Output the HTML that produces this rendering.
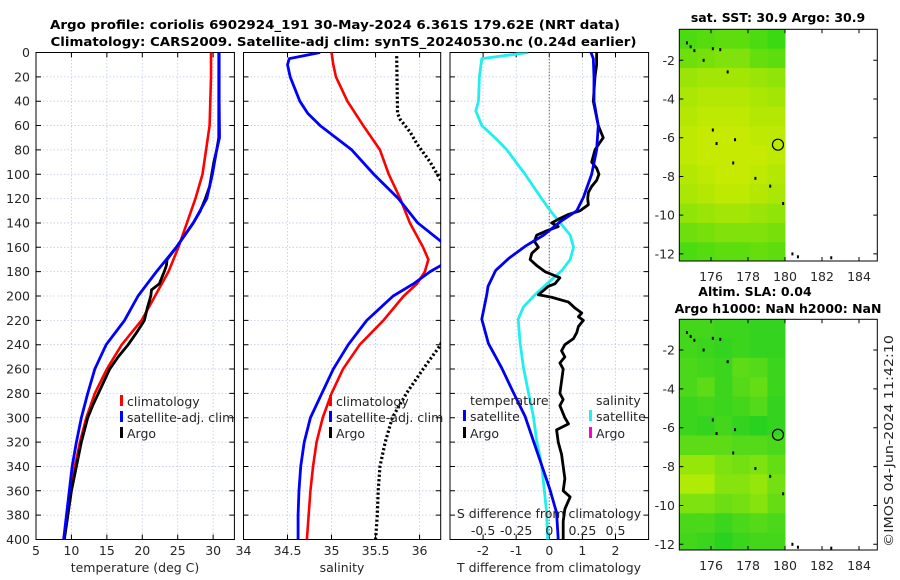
<!DOCTYPE html>
<html><head><meta charset="utf-8"><style>
html,body{margin:0;padding:0;background:#fff;}
svg{display:block;font-family:"DejaVu Sans","Liberation Sans",sans-serif;}
</style></head><body>
<svg id="chart" width="900" height="580" viewBox="0 0 900 580" xmlns="http://www.w3.org/2000/svg">
<defs>
<clipPath id="c1"><rect x="36" y="52.5" width="198.4" height="487"/></clipPath>
<clipPath id="c2"><rect x="243.5" y="52.5" width="197.2" height="487"/></clipPath>
<clipPath id="c3"><rect x="450" y="52.5" width="198.6" height="487"/></clipPath>
</defs>
</svg>
<script>
// ---------- data ----------
const depthTicks=[0,20,40,60,80,100,120,140,160,180,200,220,240,260,280,300,320,340,360,380,400];
const tempTicks=[5,10,15,20,25,30];
const salTicks=[34,34.5,35,35.5,36];
const salTickLabels=["34","34.5","35","35.5","36"];
const tdTicks=[-2,-1,0,1,2];
const sdTicks=[-0.5,-0.25,0,0.25,0.5];
const sdTickLabels=["-0.5","-0.25","0","0.25","0.5"];

const tempClimD=[0,20,40,60,80,100,120,140,160,180,200,220,240,260,280,300,320,340,360,380,400];
const tempClim=[29.7,29.7,29.6,29.5,29.0,28.5,27.5,26.3,25.1,23.7,21.8,19.9,17.1,15.0,13.3,12.1,11.2,10.5,9.9,9.4,8.9];
const tempSatD=[0,40,70,80,100,120,140,160,180,200,220,240,260,280,300,320,340,360,380,400];
const tempSat=[30.85,30.85,30.9,30.5,29.9,29.1,27.2,24.8,22.0,19.4,17.5,14.9,13.3,12.3,11.4,10.7,10.1,9.7,9.3,8.9];
const tempArgoD=[0,20,40,60,70,80,90,100,110,120,130,140,150,160,170,175,180,190,195,200,210,220,230,240,250,260,270,280,290,300,320,340,360,380,400];
const tempArgo=[30.8,30.8,30.8,30.8,30.8,30.5,30.1,29.8,29.5,28.9,28.2,27.2,26.0,24.8,23.5,23.4,23.1,22.4,21.3,21.2,20.7,20.3,19.2,18.0,16.6,15.4,14.6,13.8,13.0,12.3,11.4,10.7,10.0,9.5,9.0];

const salClimD=[0,10,20,40,60,80,100,120,140,160,170,180,190,200,220,240,260,280,300,320,340,360,380,400];
const salClim=[35.0,35.02,35.05,35.18,35.36,35.55,35.65,35.78,35.89,36.04,36.10,36.06,35.97,35.82,35.59,35.32,35.13,35.0,34.9,34.83,34.79,34.76,34.74,34.72];
const salSatD=[0,5,10,20,40,50,60,80,100,120,140,155,165,175,180,190,200,220,240,260,280,300,320,340,360,380,400];
const salSat=[34.87,34.52,34.5,34.53,34.64,34.73,34.87,35.23,35.48,35.76,35.98,36.24,36.4,36.24,36.12,35.93,35.70,35.40,35.19,35.02,34.89,34.76,34.69,34.65,34.63,34.62,34.62];
const salArgoD=[3,50,55,65,75,90,105,120,200,240,260,280,300,320,340,360,380,400];
const salArgo=[35.74,35.75,35.78,35.89,35.97,36.12,36.24,36.4,36.4,36.24,36.04,35.85,35.69,35.61,35.55,35.53,35.52,35.5];

const tdSatD=[0,5,20,40,60,80,100,119,130,139,150,159,169,179,192,199,219,239,259,279,299,319,339,359,378,400];
const tdSat=[1.26,1.33,1.35,1.35,1.48,1.43,1.28,1.03,0.83,0.33,-0.17,-0.72,-1.22,-1.62,-1.85,-1.89,-2.04,-1.84,-1.44,-1.09,-0.73,-0.48,-0.23,0.02,0.22,0.27];
const sdSatD=[0,5,20,40,48,60,70,80,100,120,130,140,150,160,170,179,187,192,199,209,219,239,259,279,299,319,339,359,378,400];
const sdSat=[-0.158,-0.51,-0.528,-0.535,-0.555,-0.51,-0.41,-0.32,-0.183,-0.058,0.008,0.083,0.158,0.183,0.158,0.095,0.013,-0.038,-0.108,-0.195,-0.235,-0.22,-0.195,-0.158,-0.12,-0.095,-0.058,-0.038,-0.02,-0.013];
const tdArgoD=[0,10,20,40,60,70,75,80,90,95,100,105,110,115,120,125,130,133,137,140,143,147,150,155,160,165,170,175,180,185,190,192,199,201,205,210,214,217,220,225,230,235,240,245,250,255,260,270,280,285,290,300,305,310,320,330,340,350,360,365,375,385,400];
const tdArgo=[1.43,1.43,1.38,1.33,1.48,1.63,1.50,1.38,1.28,1.43,1.50,1.43,1.28,1.18,1.16,1.18,0.93,0.58,0.27,0.07,0.27,-0.13,-0.38,-0.45,-0.33,-0.53,-0.58,-0.38,-0.13,0.32,0.17,-0.03,-0.33,0.07,0.58,0.78,0.98,0.88,1.03,0.88,0.83,0.73,0.47,0.37,0.47,0.32,0.42,0.37,0.32,0.42,0.32,0.47,0.58,0.22,0.27,0.37,0.42,0.47,0.42,0.63,0.47,0.42,0.42];

// maps
const lonTicks=[176,178,180,182,184];
const latTicks=[-2,-4,-6,-8,-10,-12];
const cellLon=[174.3,175.25,176.2,177.15,178.1,179.05];
const cellLat=[-0.4,-1.4,-2.4,-3.4,-4.4,-5.4,-6.4,-7.4,-8.4,-9.4,-10.4,-11.4];
const sstGrid=[
[0.2,0.25,0.3,0.3,0.2,0.1],[0.4,0.45,0.5,0.5,0.35,0.3],[0.65,0.7,0.7,0.7,0.65,0.6],[0.75,0.8,0.8,0.8,0.75,0.7],
[0.8,0.85,0.85,0.85,0.8,0.8],[0.85,0.9,0.9,0.9,0.85,0.85],[0.85,0.9,0.9,0.9,0.9,0.85],[0.8,0.85,0.9,0.9,0.85,0.8],
[0.75,0.8,0.85,0.85,0.8,0.75],[0.6,0.65,0.7,0.7,0.65,0.6],[0.4,0.45,0.5,0.5,0.5,0.45],[0.2,0.25,0.3,0.3,0.35,0.3]];
const slaGrid=[
[0.2,0.2,0.15,0.15,0.1,0.1],[0.2,0.15,0.1,0.15,0.1,0.1],[0.25,0.2,0.15,0.35,0.3,0.15],[0.25,0.35,0.15,0.3,0.4,0.15],
[0.15,0.2,0.15,0.2,0.3,0.1],[0.15,0.1,0.2,0.1,0.05,0.1],[0.35,0.35,0.35,0.3,0.3,0.25],[0.7,0.7,0.55,0.5,0.55,0.4],
[0.85,0.85,0.6,0.6,0.7,0.5],[0.55,0.55,0.45,0.5,0.6,0.4],[0.25,0.25,0.15,0.25,0.3,0.25],[0.2,0.15,0.05,0.15,0.2,0.2]];
const argoLon=179.62, argoLat=-6.36;
const coastLon=[174.7,174.9,175.1,175.6,176.1,176.5,176.9,176.1,176.3,177.3,177.2,178.4,179.2,179.9,180.4,180.7,182.5];
const coastLat=[-1.1,-1.3,-1.5,-2.0,-1.4,-1.45,-2.6,-5.6,-6.3,-6.1,-7.3,-8.1,-8.5,-9.4,-12.0,-12.15,-12.2];

// ---------- drawing ----------
const NS='http://www.w3.org/2000/svg';
const svg=document.getElementById('chart');
function mk(tag,attrs,parent){const e=document.createElementNS(NS,tag);for(const k in attrs)e.setAttribute(k,attrs[k]);(parent||svg).appendChild(e);return e;}
function txt(s,attrs,parent){const e=mk('text',attrs,parent);e.textContent=s;return e;}

const Y0=52.5,Y1=539.5;
const yD=d=>Y0+(Y1-Y0)*d/400;
const panels=[
 {name:'temperature',x0:36,x1:234.4,min:5,max:33,clip:'c1'},
 {name:'salinity',x0:243.5,x1:440.7,min:34,max:36.24,clip:'c2'},
 {name:'difference',x0:450,x1:648.6,min:-3,max:3,clip:'c3'}];
function xs(p,v){return p.x0+(p.x1-p.x0)*(v-p.min)/(p.max-p.min);}
const xsd=v=>xs(panels[2],v*4);
const GRID='rgb(192,200,232)', TXT='#262626';

function drawPanel(p,ticks,labels){
  const g=mk('g',{});
  
  
  ticks.forEach((t,i)=>{
    const x=xs(p,t);
    const gl=mk('line',{x1:x,x2:x,y1:Y0,y2:Y1,stroke:GRID,'stroke-width':0.8,'stroke-dasharray':'1.5 2'},g);
    
    
    const tk=mk('path',{d:`M${x},${Y1}v-5M${x},${Y0}v5`,stroke:'#000','stroke-width':1},g);
    
    
    const tl=txt(labels[i],{x:x,y:555,'text-anchor':'middle','font-size':12.5,fill:TXT},g);
    
    
  });
  depthTicks.forEach(d=>{
    const y=yD(d);
    if(d>0&&d<400){
      const gl=mk('line',{x1:p.x0,x2:p.x1,y1:y,y2:y,stroke:GRID,'stroke-width':0.8,'stroke-dasharray':'1.5 2'},g);
      
      
    }
    const tk=mk('path',{d:`M${p.x0},${y}h5M${p.x1},${y}h-5`,stroke:'#000','stroke-width':1},g);
    
    
  });
  const fr=mk('rect',{x:p.x0,y:Y0,width:p.x1-p.x0,height:Y1-Y0,fill:'none',stroke:'#000','stroke-width':1},g);
  
  
  return g;
}
drawPanel(panels[0],tempTicks,tempTicks.map(String));
drawPanel(panels[1],salTicks,salTickLabels);
drawPanel(panels[2],tdTicks,tdTicks.map(String));

depthTicks.forEach(d=>{
  const t=txt(String(d),{x:30,y:yD(d)+4.5,'text-anchor':'end','font-size':12.5,fill:TXT});
  
  
});

// zero line panel 3
const zl=mk('line',{x1:xs(panels[2],0),x2:xs(panels[2],0),y1:Y0,y2:Y1,stroke:'#8b6a3a','stroke-width':1.2,'stroke-dasharray':'1.2 2'});



function series(D,V,fx,color,w,name,clip,dash){
  let d='';
  const n=Math.min(D.length,V.length);
  for(let i=0;i<n;i++) d+=(i?'L':'M')+fx(V[i]).toFixed(2)+','+yD(D[i]).toFixed(2);
  const a={d:d,fill:'none',stroke:color,'stroke-width':w,'stroke-linejoin':'round','clip-path':`url(#${clip})`};
  if(dash)a['stroke-dasharray']=dash;
  const e=mk('path',a);
  
  
  return e;
}
const p1=panels[0],p2=panels[1],p3=panels[2];
series(tempClimD,tempClim,v=>xs(p1,v),'#ff0000',2.6,'temperature-climatology-line','c1');
series(tempArgoD,tempArgo,v=>xs(p1,v),'#000',2.8,'temperature-argo-line','c1');
series(tempSatD,tempSat,v=>xs(p1,v),'#0000ff',2.8,'temperature-satellite-line','c1');
series(salClimD,salClim,v=>xs(p2,v),'#ff0000',2.6,'salinity-climatology-line','c2');
series(salSatD,salSat,v=>xs(p2,v),'#0000ff',2.8,'salinity-satellite-line','c2');
series(salArgoD,salArgo,v=>xs(p2,v),'#000',3.2,'salinity-argo-line','c2','2.2 2.3');
series(sdSatD,sdSat,xsd,'#22eeee',2.8,'salinity-diff-satellite-line','c3');
series(tdArgoD,tdArgo,v=>xs(p3,v),'#000',2.8,'temperature-diff-argo-line','c3');
series(tdSatD,tdSat,v=>xs(p3,v),'#0000ee',2.8,'temperature-diff-satellite-line','c3');

// legends
function legendEntry(x,y,color,label,name){
  const g=mk('g',{});
  
  
  if(color){
    const m=mk('rect',{x:x,y:y-11,width:3,height:11,fill:color},g);
    
    
  }
  const t=txt(label,{x:x+(color?7:0),y:y,'font-size':12.5,fill:TXT},g);
  
  
}
[[120,'#ff0000','climatology'],[120,'#0000ff','satellite-adj. clim'],[120,'#000','Argo']].forEach((r,i)=>legendEntry(r[0],406+16*i,r[1],r[2],'temperature-legend-entry'));
[[329,'#ff0000','climatology'],[329,'#0000ff','satellite-adj. clim'],[329,'#000','Argo']].forEach((r,i)=>legendEntry(r[0],406+16*i,r[1],r[2],'salinity-legend-entry'));
legendEntry(470,405,null,'temperature','diff-legend-temperature-header');
legendEntry(463,421,'#0000ff','satellite','diff-legend-temperature-satellite');
legendEntry(463,438,'#000','Argo','diff-legend-temperature-argo');
legendEntry(596,405,null,'salinity','diff-legend-salinity-header');
legendEntry(589,421,'#22eeee','satellite','diff-legend-salinity-satellite');
legendEntry(589,438,'#ff00cc','Argo','diff-legend-salinity-argo');

// S-diff axis labels inside panel 3
let t=txt('S difference from climatology',{x:549,y:518,'text-anchor':'middle','font-size':12.5,fill:TXT});


sdTicks.forEach((v,i)=>{
  const e=txt(sdTickLabels[i],{x:xsd(v),y:535,'text-anchor':'middle','font-size':12.5,fill:TXT});
  
  
});

// axis titles
t=txt('temperature (deg C)',{x:135,y:572,'text-anchor':'middle','font-size':12.5,fill:TXT});


t=txt('salinity',{x:342,y:572,'text-anchor':'middle','font-size':12.5,fill:TXT});


t=txt('T difference from climatology',{x:549,y:572,'text-anchor':'middle','font-size':12.5,fill:TXT});



// main title
t=txt('Argo profile: coriolis 6902924_191 30-May-2024 6.361S 179.62E (NRT data)',{x:335,y:29,'text-anchor':'middle','font-size':12.5,'font-weight':'bold',fill:'#000',textLength:570,lengthAdjust:'spacingAndGlyphs'});


t=txt('Climatology: CARS2009. Satellite-adj clim: synTS_20240530.nc (0.24d earlier)',{x:343.5,y:46,'text-anchor':'middle','font-size':12.5,'font-weight':'bold',fill:'#000',textLength:586,lengthAdjust:'spacingAndGlyphs'});



// ---------- maps ----------
const MX0=679.3,MX1=877.3;
const lonX=l=>711+(l-176)*18.5;
function drawMap(name,top,bottom,lat2y,scale,grid,c0,c1,labelY){
  const latY=v=>lat2y+(-2-v)*scale;
  const g=mk('g',{});
  
  
  grid.forEach((row,r)=>row.forEach((v,c)=>{
    const x=lonX(cellLon[c]), y=latY(cellLat[r]);
    const x2=c<cellLon.length-1?lonX(cellLon[c+1]):lonX(180.0);
    const y2=Math.min(latY(cellLat[r]-1),bottom);
    const yy=Math.max(y,top);
    const col=`rgb(${Math.round(c0[0]+(c1[0]-c0[0])*v)},${Math.round(c0[1]+(c1[1]-c0[1])*v)},${Math.round(c0[2]+(c1[2]-c0[2])*v)})`;
    const e=mk('rect',{x:Math.max(x,MX0),y:yy,width:x2-Math.max(x,MX0)+0.5,height:y2-yy+0.5,fill:col},g);
    
    
  }));
  coastLon.forEach((l,i)=>{
    const e=mk('rect',{x:lonX(l)-1,y:latY(coastLat[i])-1.5,width:2,height:3,fill:'#000'},g);
    
    
  });
  const ci=mk('circle',{cx:lonX(argoLon),cy:latY(argoLat),r:5.5,fill:'none',stroke:'#000','stroke-width':1.2},g);
  
  
  lonTicks.forEach(l=>{
    const x=lonX(l);
    const tk=mk('path',{d:`M${x},${bottom}v-4M${x},${top}v4`,stroke:'#000','stroke-width':1},g);
    
    
    const tl=txt(String(l),{x:x,y:labelY,'text-anchor':'middle','font-size':12.5,fill:TXT},g);
    
    
  });
  latTicks.forEach(v=>{
    const y=latY(v);
    const tk=mk('path',{d:`M${MX0},${y}h4M${MX1},${y}h-4`,stroke:'#000','stroke-width':1},g);
    
    
    const tl=txt(String(v),{x:675,y:y+4.5,'text-anchor':'end','font-size':12.5,fill:TXT},g);
    
    
  });
  const fr=mk('rect',{x:MX0,y:top,width:MX1-MX0,height:bottom-top,fill:'none',stroke:'#000','stroke-width':1},g);
  
  
}
drawMap('sst-map',29.3,261,60.3,19.36,sstGrid,[40,215,20],[215,236,0],281);
drawMap('sla-map',319.3,550,350,19.43,slaGrid,[34,208,34],[200,240,0],570);

t=txt('sat. SST: 30.9 Argo: 30.9',{x:778,y:22,'text-anchor':'middle','font-size':12.5,'font-weight':'bold',fill:'#000'});


t=txt('Altim. SLA: 0.04',{x:755,y:296,'text-anchor':'middle','font-size':12.5,'font-weight':'bold',fill:'#000'});


t=txt('Argo h1000: NaN h2000: NaN',{x:778,y:313,'text-anchor':'middle','font-size':12.5,'font-weight':'bold',fill:'#000'});


t=txt('©IMOS 04-Jun-2024 11:42:10',{x:0,y:0,'text-anchor':'middle','font-size':12.5,fill:TXT,transform:'translate(893,441) rotate(-90)',textLength:212,lengthAdjust:'spacingAndGlyphs'});


</script>
</body></html>
